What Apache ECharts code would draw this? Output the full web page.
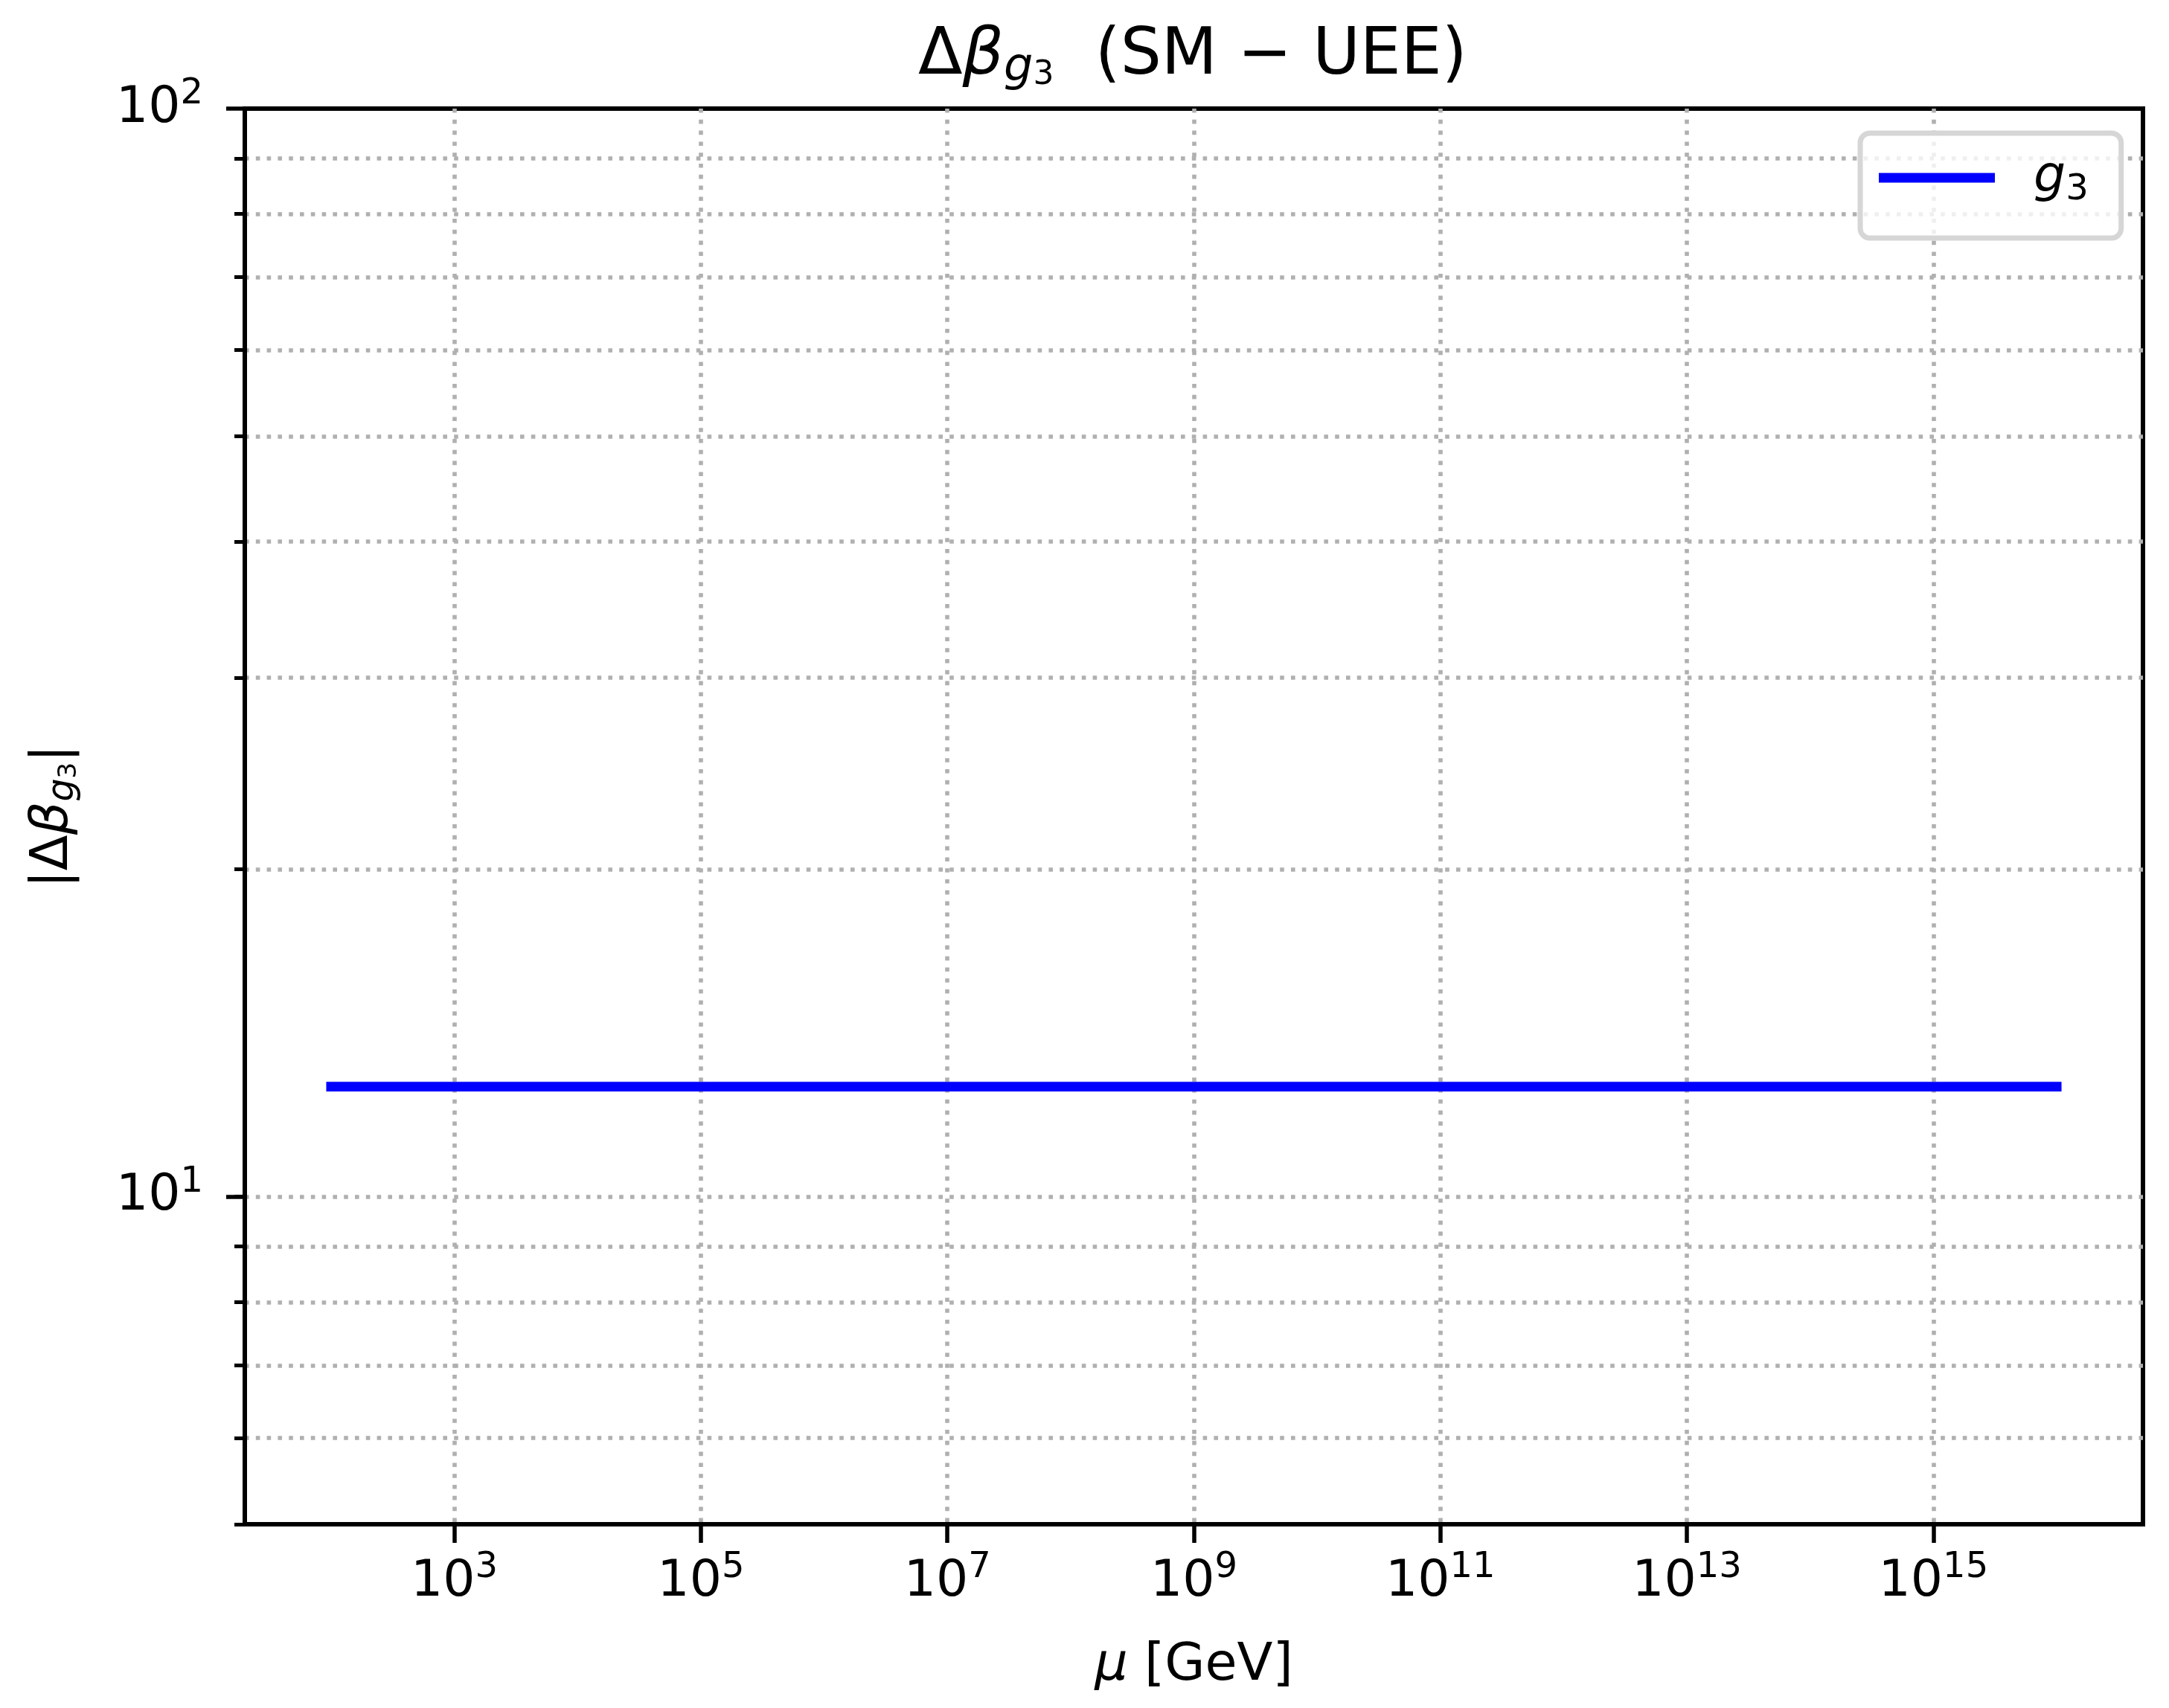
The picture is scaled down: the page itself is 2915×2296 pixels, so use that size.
<!DOCTYPE html>
<html>
<head>
<meta charset="utf-8">
<script src="https://cdn.jsdelivr.net/npm/echarts@6/dist/echarts.min.js"></script>
<style>
  html, body { margin: 0; padding: 0; background: #fff; }
  #chart { width: 2915px; height: 2296px; }
</style>
</head>
<body>
<div id="chart"></div>
<script>
// data
var muValues = [1e2, 1e16];
var dBetaG3 = [12.62, 12.62];

// axis ticks
var xTicks = [1e3, 1e5, 1e7, 1e9, 1e11, 1e13, 1e15];
var yMajorTicks = [10, 100];
var yMinorTicks = [5, 6, 7, 8, 9, 10, 20, 30, 40, 50, 60, 70, 80, 90];
var xLimits = [Math.pow(10, 1.3), Math.pow(10, 16.7)];
var yLimits = [5, 100];

var FONT = 'DejaVu Sans';

var chart = echarts.init(document.getElementById('chart'));

// 10^n labels
function powLabel(v) {
    var e = Math.round(Math.log10(v));
    return '{b|10}{s|' + e + '}';
}
var powRich = {
    b: { fontFamily: FONT, fontSize: 68, color: '#000' },
    s: { fontFamily: FONT, fontSize: 48, color: '#000', padding: [0, 0, 39, 0] }
};

var seriesData = muValues.map(function(m, i) {
    return [m, dBetaG3[i]];
});

chart.setOption({
    animation: false,
    backgroundColor: '#fff',
    title: {
        text: '{d|Δ}{b|β}{g|g}{t|3}{n|  (SM − UEE)}',
        left: 1234,
        top: 28,
        padding: 0,
        textStyle: {
            fontWeight: 'normal',
            rich: {
                d: { fontFamily: FONT, fontSize: 87, fontWeight: 'normal', color: '#000' },
                b: { fontFamily: FONT, fontSize: 87, fontWeight: 'normal', fontStyle: 'italic', color: '#000' },
                g: { fontFamily: FONT, fontSize: 62, fontWeight: 'normal', fontStyle: 'italic', color: '#000', padding: [32, 0, 0, 0] },
                t: { fontFamily: FONT, fontSize: 44, fontWeight: 'normal', color: '#000', padding: [52, 0, 0, 0] },
                n: { fontFamily: FONT, fontSize: 87, fontWeight: 'normal', color: '#000' }
            }
        }
    },
    legend: {
        left: 2500,
        top: 179,
        padding: [26, 44, 40, 25],
        itemWidth: 156,
        itemHeight: 13,
        borderColor: '#d6d6d6',
        borderWidth: 7,
        borderRadius: 13,
        backgroundColor: 'rgba(255,255,255,0.8)',
        data: [{ name: 'g3', icon: 'rect' }],
        formatter: function() {
            return '{g|g}{n|3}';
        },
        textStyle: {
            rich: {
                g: { fontFamily: FONT, fontSize: 68, fontStyle: 'italic', color: '#000', padding: [0, 0, 0, 47] },
                n: { fontFamily: FONT, fontSize: 48, color: '#000', padding: [34, 0, 0, 0] }
            }
        }
    },
    grid: {
        left: 329,
        right: 35,
        top: 146,
        bottom: 247,
        show: true,
        borderColor: '#000',
        borderWidth: 6,
        backgroundColor: 'transparent'
    },
    xAxis: {
        type: 'log',
        min: xLimits[0],
        max: xLimits[1],
        axisLine: { show: true, lineStyle: { color: '#000', width: 6 } },
        axisTick: { show: true, customValues: xTicks, length: 25, lineStyle: { color: '#000', width: 5.5 } },
        axisLabel: {
            customValues: xTicks,
            margin: 35,
            formatter: powLabel,
            rich: powRich
        },
        splitLine: { show: true, lineStyle: { color: '#b0b0b0', width: 5.6, type: [5.6, 9.2] } },
        name: '{m|μ}{n| [GeV]}',
        nameLocation: 'middle',
        nameGap: 156,
        nameTextStyle: {
            rich: {
                m: { fontFamily: FONT, fontSize: 70, fontStyle: 'italic', color: '#000' },
                n: { fontFamily: FONT, fontSize: 70, color: '#000' }
            }
        }
    },
    yAxis: [{
        type: 'log',
        min: yLimits[0],
        max: yLimits[1],
        position: 'left',
        axisLine: { show: true, lineStyle: { color: '#000', width: 6 } },
        axisTick: { show: true, customValues: yMinorTicks, length: 14, lineStyle: { color: '#000', width: 5 } },
        axisLabel: { show: false },
        splitLine: { show: true, showMinLine: false, lineStyle: { color: '#b0b0b0', width: 5.6, type: [5.6, 9.2] } },
        name: '{p||}{d|Δ}{b|β}{g|g}{t|3}{p||}',
        nameLocation: 'middle',
        nameRotate: 90,
        nameGap: 219,
        nameTextStyle: {
            rich: {
                p: { fontFamily: FONT, fontSize: 70, color: '#000' },
                d: { fontFamily: FONT, fontSize: 70, color: '#000' },
                b: { fontFamily: FONT, fontSize: 70, fontStyle: 'italic', color: '#000' },
                g: { fontFamily: FONT, fontSize: 49, fontStyle: 'italic', color: '#000', padding: [26, 0, 0, 0] },
                t: { fontFamily: FONT, fontSize: 34, color: '#000', padding: [42, 0, 0, 0] }
            }
        }
    }, {
        type: 'log',
        min: yLimits[0],
        max: yLimits[1],
        position: 'left',
        axisLine: { show: false },
        axisTick: { show: true, customValues: yMajorTicks, length: 25, lineStyle: { color: '#000', width: 5.5 } },
        axisLabel: {
            customValues: yMajorTicks,
            margin: 56,
            formatter: powLabel,
            rich: powRich
        },
        splitLine: { show: false }
    }],
    series: [{
        name: 'g3',
        type: 'line',
        yAxisIndex: 0,
        data: seriesData,
        symbol: 'none',
        color: '#0000ff',
        lineStyle: { color: '#0000ff', width: 13, cap: 'square' }
    }]
});
</script>
</body>
</html>
